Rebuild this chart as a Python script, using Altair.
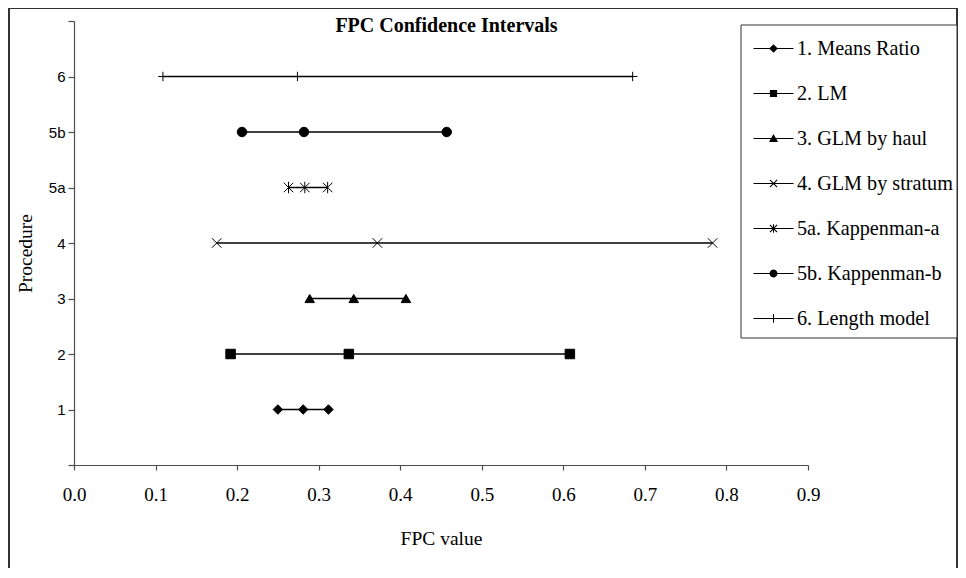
import math
import json
import altair as alt
import pandas as pd

# ---- data ----
procedures = ["1", "2", "3", "4", "5a", "5b", "6"]
series = ["1. Means Ratio", "2. LM", "3. GLM by haul", "4. GLM by stratum",
          "5a. Kappenman-a", "5b. Kappenman-b", "6. Length model"]
lower = [0.250, 0.192, 0.289, 0.175, 0.263, 0.206, 0.109]
estimate = [0.281, 0.337, 0.343, 0.372, 0.283, 0.282, 0.274]
upper = [0.312, 0.608, 0.407, 0.783, 0.311, 0.457, 0.685]
x_ticks = [0.0, 0.1, 0.2, 0.3, 0.4, 0.5, 0.6, 0.7, 0.8, 0.9]
chart_title = "FPC Confidence Intervals"

rows = []
for i, (p, s) in enumerate(zip(procedures, series)):
    for kind, v in (("lower", lower[i]), ("estimate", estimate[i]), ("upper", upper[i])):
        rows.append({"procedure": p, "series": s, "rank": i + 1, "kind": kind, "fpc": v})
df = pd.DataFrame(rows)

# ---- marker shapes (plot) ----
X_PATH = "M-1,-1L1,1M-1,1L1,-1"
plot_shapes = ["diamond", "square", "triangle-up", X_PATH,
               X_PATH + "M0,-1.2L0,1.2", "circle", "M-1,0L1,0M0,-1L0,1"]


# ---- legend symbols: line + marker, built only from filled polygons ----
def poly(pts):
    area = sum(pts[i][0] * pts[(i + 1) % len(pts)][1] - pts[(i + 1) % len(pts)][0] * pts[i][1]
               for i in range(len(pts)))
    if area < 0:
        pts = pts[::-1]
    return "M" + "L".join(f"{x:.3f},{y:.3f}" for x, y in pts) + "Z"


def seg(x1, y1, x2, y2, w=0.045):
    dx, dy = x2 - x1, y2 - y1
    n = math.hypot(dx, dy)
    nx, ny = -dy / n * w, dx / n * w
    return poly([(x1 + nx, y1 + ny), (x2 + nx, y2 + ny), (x2 - nx, y2 - ny), (x1 - nx, y1 - ny)])


LINE = seg(-1.667, 0, 1.667, 0, 0.05)
XM = seg(-0.3, -0.3, 0.3, 0.3) + seg(-0.3, 0.3, 0.3, -0.3)
circ = poly([(0.33 * math.cos(2 * math.pi * k / 20), 0.33 * math.sin(2 * math.pi * k / 20))
             for k in range(20)])
legend_shapes = [
    LINE + poly([(0, -0.36), (0.36, 0), (0, 0.36), (-0.36, 0)]),
    LINE + poly([(-0.3, -0.3), (0.3, -0.3), (0.3, 0.3), (-0.3, 0.3)]),
    LINE + poly([(0, -0.38), (0.38, 0.3), (-0.38, 0.3)]),
    LINE + XM,
    LINE + XM + seg(0, -0.36, 0, 0.36),
    LINE + circ,
    LINE + seg(0, -0.36, 0, 0.36),
]

SERIF = "Liberation Serif"
SANS = "Liberation Sans"
AXIS_COLOR = "#4d4d4d"

label_expr = ("datum.value >= 1 && datum.value <= 7 ? " + json.dumps(procedures)
              + "[datum.value - 1] : ''")

x_enc = alt.X(
    "fpc:Q",
    scale=alt.Scale(domain=[0, 0.9], nice=False, zero=False),
    axis=alt.Axis(values=x_ticks, format=".1f", grid=False, tickSize=5, labelFlush=False,
                  labelFont=SERIF, labelFontSize=19, labelBaseline="alphabetic",
                  labelPadding=30, labelColor="black",
                  title="FPC value", titleFont=SERIF, titleFontSize=19.5,
                  titleFontWeight="normal", titleY=79, titleBaseline="alphabetic",
                  titleColor="black"),
)
y_enc = alt.Y(
    "rank:Q",
    scale=alt.Scale(domain=[0, 8], nice=False, zero=False),
    axis=alt.Axis(values=list(range(9)), labelExpr=label_expr, grid=False, tickSize=6,
                  labelFlush=False,
                  labelFont=SANS, labelFontSize=15, labelPadding=3, labelColor="black",
                  title="Procedure", titleFont=SERIF, titleFontSize=19.5,
                  titleFontWeight="normal", titleX=-43, titleY=232,
                  titleBaseline="alphabetic", titleColor="black"),
)

base = alt.Chart(df)

lines = base.mark_line(color="black", strokeWidth=1.4).encode(
    x=x_enc, y=y_enc, detail="procedure:N", order="fpc:Q")

points = base.mark_point(fill="black", stroke="black", strokeWidth=1, size=90,
                         opacity=1, fillOpacity=1).encode(
    x=x_enc, y=y_enc,
    shape=alt.Shape("series:N", scale=alt.Scale(domain=series, range=plot_shapes), legend=None))

legend_layer = base.transform_filter("false").mark_point(
    filled=True, fill="black", opacity=1, fillOpacity=1).encode(
    x=x_enc, y=y_enc,
    shape=alt.Shape("series:N", scale=alt.Scale(domain=series, range=legend_shapes),
                    legend=alt.Legend(title=None, orient="none", legendX=687, legendY=15,
                                      labelFont=SERIF, labelFontSize=20.2, labelColor="black",
                                      labelLimit=400, labelOffset=11, symbolSize=576,
                                      rowPadding=22, padding=0)))

deco = pd.DataFrame({"k": [0]})
outer_border = alt.Chart(deco).mark_rect(fill="transparent", stroke="#333333", strokeWidth=2).encode(
    x=alt.value(-65), x2=alt.value(883), y=alt.value(-13), y2=alt.value(600))
legend_box = alt.Chart(deco).mark_rect(fill="white", stroke="#333333", strokeWidth=1).encode(
    x=alt.value(667), x2=alt.value(883), y=alt.value(4), y2=alt.value(317))
title_text = alt.Chart(deco).mark_text(
    text=chart_title, font=SERIF, fontSize=20, fontWeight="bold", color="black",
    align="center", baseline="alphabetic").encode(x=alt.value(372.5), y=alt.value(11))

chart = alt.layer(outer_border, legend_box, title_text, lines, points, legend_layer).resolve_scale(
    shape="independent"
).properties(
    width=734, height=444,
    autosize=alt.AutoSizeParams(type="none"),
    padding={"left": 66, "top": 13, "right": 150, "bottom": 103},
).configure_view(stroke=None).configure_axis(
    domainColor=AXIS_COLOR, tickColor=AXIS_COLOR, domainWidth=1.2, tickWidth=1.2
).configure_legend(
    symbolFillColor="black", symbolStrokeColor="black", symbolStrokeWidth=0.01
)

chart.save("out.html", embed_options={"renderer": "svg", "actions": False})
